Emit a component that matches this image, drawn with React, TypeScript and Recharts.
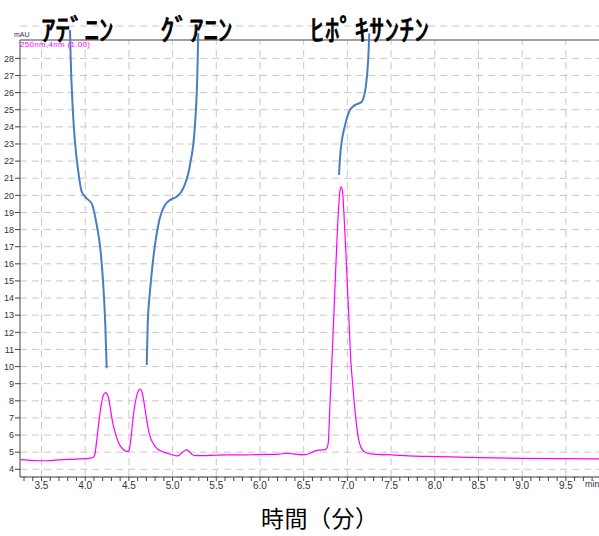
import React from 'react';
import { LineChart, Line, XAxis, YAxis, CartesianGrid, ReferenceLine } from 'recharts';

// Chromatogram (time in min, absorbance in mAU)
const timeMin = [
  3.254, 3.35, 3.5, 3.6, 3.7, 3.8, 3.9, 4.0, 4.06, 4.09, 4.11, 4.13, 4.15, 4.17, 4.19, 4.21, 4.235,
  4.26, 4.28, 4.3, 4.32, 4.34, 4.36, 4.38, 4.4, 4.42, 4.44, 4.46, 4.48, 4.495, 4.51, 4.53, 4.55,
  4.57, 4.59, 4.61, 4.63, 4.65, 4.67, 4.69, 4.71, 4.73, 4.75, 4.78, 4.82, 4.86, 4.9, 4.95, 5.0,
  5.05, 5.08, 5.11, 5.14, 5.16, 5.19, 5.22, 5.26, 5.35, 5.5, 5.7, 5.9, 6.1, 6.22, 6.3, 6.38,
  6.45, 6.52, 6.58, 6.63, 6.68, 6.73, 6.76, 6.78, 6.8, 6.82, 6.84, 6.86, 6.88, 6.9, 6.915, 6.93,
  6.945, 6.96, 6.98, 7.0, 7.02, 7.04, 7.06, 7.08, 7.1, 7.12, 7.14, 7.17, 7.21, 7.27, 7.35, 7.5,
  7.7, 7.9, 8.2, 8.5, 9.0, 9.5, 9.879,
];
const absorbance = [
  4.56, 4.53, 4.5, 4.51, 4.55, 4.58, 4.59, 4.62, 4.65, 4.7, 4.85, 5.6, 6.5, 7.3, 7.95, 8.35, 8.48,
  8.3, 7.8, 7.15, 6.6, 6.2, 5.85, 5.58, 5.38, 5.25, 5.14, 5.07, 5.03, 5.05, 5.3, 6.1, 7.1,
  7.8, 8.3, 8.6, 8.68, 8.5, 8.0, 7.35, 6.7, 6.15, 5.8, 5.5, 5.22, 5.08, 5.0, 4.92, 4.84,
  4.78, 4.83, 4.98, 5.1, 5.13, 5.04, 4.88, 4.8, 4.8, 4.83, 4.84, 4.85, 4.87, 4.89, 4.93, 4.9,
  4.86, 4.86, 4.95, 5.08, 5.12, 5.13, 5.2, 5.5, 7.7, 10.0, 12.4, 14.9, 17.3, 19.3, 20.25, 20.5,
  20.2, 19.0, 17.0, 14.7, 12.5, 10.3, 9.0, 7.8, 6.8, 6.0, 5.5, 5.15, 4.98, 4.9, 4.87, 4.84,
  4.78, 4.75, 4.72, 4.68, 4.64, 4.62, 4.61,
];

// Annotation curves (drawn in chart coordinates)
const adenineCurveT = [3.826, 3.834, 3.857, 3.883, 3.921, 3.96, 4.017, 4.074, 4.132, 4.177, 4.207, 4.23, 4.246];
const adenineCurveV = [29.65, 28.0, 25.1, 23.13, 21.38, 20.21, 19.82, 19.53, 18.27, 16.71, 14.76, 12.43, 9.9];
const guanineCurveT = [4.704, 4.715, 4.741, 4.779, 4.836, 4.913, 4.99, 5.047, 5.122, 5.199, 5.256, 5.283, 5.294];
const guanineCurveV = [10.09, 12.43, 14.37, 16.32, 18.27, 19.43, 19.78, 19.92, 20.41, 21.77, 24.1, 27.02, 29.46];
const hypoxCurveT = [6.904, 6.915, 6.935, 6.973, 7.03, 7.087, 7.164, 7.213, 7.239, 7.251];
const hypoxCurveV = [21.19, 22.16, 23.13, 24.1, 24.98, 25.27, 25.47, 26.44, 28.0, 29.46];

const peakLabels = ['ｱﾃﾞﾆﾝ', 'ｸﾞｱﾆﾝ', 'ﾋﾎﾟｷｻﾝﾁﾝ'];
const xMajorTicks = [3.5, 4.0, 4.5, 5.0, 5.5, 6.0, 6.5, 7.0, 7.5, 8.0, 8.5, 9.0, 9.5];
const xAllTicks = [
  3.3, 3.4, 3.5, 3.6, 3.7, 3.8, 3.9, 4.0, 4.1, 4.2, 4.3, 4.4, 4.5, 4.6, 4.7, 4.8, 4.9, 5.0,
  5.1, 5.2, 5.3, 5.4, 5.5, 5.6, 5.7, 5.8, 5.9, 6.0, 6.1, 6.2, 6.3, 6.4, 6.5, 6.6, 6.7, 6.8,
  6.9, 7.0, 7.1, 7.2, 7.3, 7.4, 7.5, 7.6, 7.7, 7.8, 7.9, 8.0, 8.1, 8.2, 8.3, 8.4, 8.5, 8.6,
  8.7, 8.8, 8.9, 9.0, 9.1, 9.2, 9.3, 9.4, 9.5, 9.6, 9.7, 9.8,
];
const yTicks = [4, 5, 6, 7, 8, 9, 10, 11, 12, 13, 14, 15, 16, 17, 18, 19, 20, 21, 22, 23, 24, 25, 26, 27, 28];

const X_MIN = 3.254;
const X_MAX = 9.879;
const Y_MIN = 3.55;
const Y_MAX = 29.89;
const Y_FRAME = 29.07;

const zip = (ts: number[], vs: number[]) => ts.map((t, i) => ({ t, v: vs[i] }));
const chromData = zip(timeMin, absorbance);
const adenineData = zip(adenineCurveT, adenineCurveV);
const guanineData = zip(guanineCurveT, guanineCurveV);
const hypoxData = zip(hypoxCurveT, hypoxCurveV);

const isMajor = (v: number) => Math.abs(v * 2 - Math.round(v * 2)) < 1e-6;

const jpFont = '"Noto Sans CJK JP", "Noto Sans", sans-serif';
const tickFont = '"Liberation Sans", Arial, sans-serif';

const labelStyle: React.CSSProperties = {
  position: 'absolute',
  top: 17,
  fontFamily: jpFont,
  fontSize: 29,
  fontWeight: 400,
  WebkitTextStroke: '0.8px #000',
  lineHeight: '22px',
  height: 22,
  color: '#000',
  whiteSpace: 'nowrap',
};

export default function App() {
  return (
    <div style={{ position: 'absolute', left: 0, top: 0, width: 599, height: 536, background: '#fff' }}>
      <LineChart width={599} height={536} margin={{ top: 26, right: 0, bottom: 0, left: 0 }}>
        <CartesianGrid vertical={false} stroke="#c8c8c8" strokeDasharray="7 5" />
        {xMajorTicks.map((x) => (
          <ReferenceLine
            key={'g' + x}
            segment={[{ x, y: Y_MIN }, { x, y: Y_FRAME }]}
            stroke="#c8c8c8"
            strokeDasharray="7 5"
          />
        ))}
        <ReferenceLine y={Y_FRAME} stroke="#808080" strokeWidth={1.5} />
        <ReferenceLine segment={[{ x: X_MIN, y: Y_MIN }, { x: X_MIN, y: Y_FRAME }]} stroke="#444" />
        <XAxis
          type="number"
          dataKey="t"
          domain={[X_MIN, X_MAX]}
          allowDataOverflow
          ticks={xAllTicks}
          interval={0}
          tickFormatter={(v: number) => (isMajor(v) ? v.toFixed(1) : '')}
          tickSize={4}
          tickMargin={1}
          height={59}
          stroke="#444"
          tick={{ fontSize: 10, fill: '#333', fontFamily: tickFont }}
        />
        <YAxis
          type="number"
          domain={[Y_MIN, Y_MAX]}
          allowDataOverflow
          ticks={yTicks}
          interval={0}
          width={20}
          tickSize={5}
          tickMargin={1}
          axisLine={false}
          stroke="#444"
          tick={{ fontSize: 9, fill: '#333', fontFamily: tickFont }}
        />
        <Line data={chromData} dataKey="v" type="monotone" stroke="#ff00ff" strokeWidth={1.2} dot={false} isAnimationActive={false} />
        <Line data={adenineData} dataKey="v" type="monotone" stroke="#4a7ebb" strokeWidth={2} dot={false} isAnimationActive={false} />
        <Line data={guanineData} dataKey="v" type="monotone" stroke="#4a7ebb" strokeWidth={2} dot={false} isAnimationActive={false} />
        <Line data={hypoxData} dataKey="v" type="monotone" stroke="#4a7ebb" strokeWidth={2} dot={false} isAnimationActive={false} />
      </LineChart>
      <div style={{ ...labelStyle, left: 41 }}>{peakLabels[0]}</div>
      <div style={{ ...labelStyle, left: 160 }}>{peakLabels[1]}</div>
      <div style={{ ...labelStyle, left: 310, letterSpacing: 0.5 }}>{peakLabels[2]}</div>
      <div style={{ position: 'absolute', left: 14, top: 31, fontFamily: tickFont, fontSize: 7, lineHeight: '8px', color: '#333' }}>mAU</div>
      <div style={{ position: 'absolute', left: 20, top: 41, fontFamily: tickFont, fontSize: 8, lineHeight: '8px', color: '#ff00ff', whiteSpace: 'nowrap', letterSpacing: 0.3 }}>250nm,4nm (1.00)</div>
      <div style={{ position: 'absolute', left: 585, top: 479, fontFamily: tickFont, fontSize: 9, lineHeight: '10px', color: '#333' }}>min</div>
      <div style={{ position: 'absolute', left: 261, top: 503, fontFamily: jpFont, fontSize: 23, lineHeight: '28px', color: '#000', whiteSpace: 'nowrap', letterSpacing: 0.5 }}>時間（分）</div>
    </div>
  );
}
